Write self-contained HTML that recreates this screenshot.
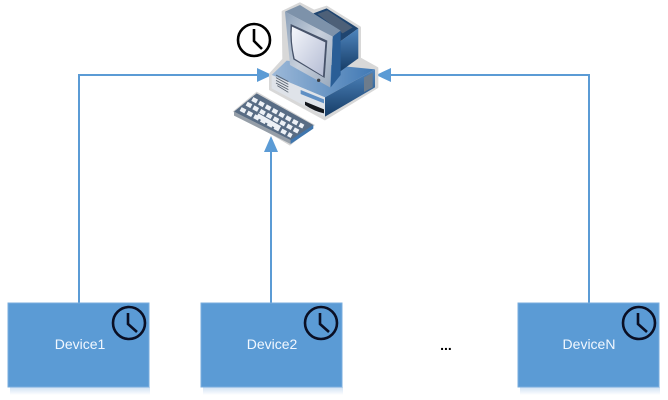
<!DOCTYPE html>
<html>
<head>
<meta charset="utf-8">
<style>
html,body{margin:0;padding:0;background:#fff;width:668px;height:400px;overflow:hidden}
svg{display:block}
text{font-family:"Liberation Sans",sans-serif}
</style>
</head>
<body>
<svg width="668" height="400" viewBox="0 0 668 400" xmlns="http://www.w3.org/2000/svg">
<defs>
<linearGradient id="scr" x1="0" y1="0" x2="1" y2="1"><stop offset="0" stop-color="#f4f6fb"/><stop offset="1" stop-color="#b4bcd4"/></linearGradient>
<linearGradient id="frame" x1="0" y1="0" x2="1" y2="1"><stop offset="0" stop-color="#8ba0b8"/><stop offset="0.5" stop-color="#c8d0dc"/><stop offset="1" stop-color="#98a8bc"/></linearGradient>
<linearGradient id="side" x1="0" y1="0" x2="0" y2="1"><stop offset="0" stop-color="#4f86bf"/><stop offset="1" stop-color="#163c66"/></linearGradient>
<linearGradient id="top" x1="0" y1="0" x2="1" y2="0"><stop offset="0" stop-color="#9db9d8"/><stop offset="1" stop-color="#3f78b4"/></linearGradient>
<linearGradient id="sh" x1="0" y1="0" x2="0" y2="1"><stop offset="0" stop-color="#cfe0f3"/><stop offset="1" stop-color="#ffffff"/></linearGradient>
<g id="clock" fill="none">
<circle cx="0" cy="0" r="16" stroke="#0a0f24" stroke-width="2.6" fill="none"/>
<path d="M-1 -10 L-1 1 L8 9" stroke="#0a0f24" stroke-width="2.6"/>
</g>
</defs>

<!-- connectors -->
<g fill="none" stroke="#5b9bd5" stroke-width="2">
<path d="M79 303V75H262"/>
<path d="M271 303V148"/>
<path d="M589 303V75H386"/>
</g>
<g fill="#5b9bd5">
<path d="M272 75L257 68V82Z"/>
<path d="M376 75L391 68V82Z"/>
<path d="M271 136L264 152H278Z"/>
</g>

<!-- computer, drawn in 3x coordinates -->
<g transform="translate(220,0) scale(0.3333)">
<path d="M150 222L190 178L188 35L240 10L282 32L320 20L420 82V175L472 204V262L315 358L150 268Z" fill="#d8d8d8" stroke="#d8d8d8" stroke-width="6" stroke-linejoin="round"/>
<!-- base -->
<path d="M155 225L200 182L465 208L315 292Z" fill="url(#top)"/>
<path d="M155 225L315 292V350L155 265Z" fill="#dfe3e9"/>
<path d="M315 292L465 208V262L315 350Z" fill="url(#side)"/>
<path d="M168 225L205 245M168 233L205 253M168 241L205 261M168 249L205 269M172 257L205 277" stroke="#555f6c" stroke-width="2.5"/>
<path d="M242 270L312 298V310L242 282Z" fill="#5f8fc4"/>
<path d="M255 305L312 328V340Q285 335 255 315Z" fill="#14171c"/>
<path d="M432 232L458 218V262L432 276Z" fill="#6d7c8c"/>
<!-- tower back -->
<path d="M280 40L320 25L415 85L360 125Z" fill="#1f4570"/>
<path d="M292 42L322 31L398 82L368 100Z" fill="#4d6078"/>
<path d="M360 125L415 85V175L360 215Z" fill="url(#side)"/>
<!-- monitor -->
<path d="M195 35L240 15L362 92L338 110Z" fill="#7d92aa"/>
<path d="M338 110L362 92V225L332 262Z" fill="#2a5e96"/>
<path d="M195 35L338 110L330 262L210 195Z" fill="url(#frame)"/>
<path d="M212 72L322 122L314 234L220 178Q208 120 212 72Z" fill="#47536a"/>
<path d="M216 80L316 127L309 228L224 176Q212 125 216 80Z" fill="url(#scr)"/>
<circle cx="296" cy="241" r="5" fill="#3b3f46"/>
<!-- keyboard -->
<path d="M38 335L110 275L285 375L210 437Z" fill="#d4d4d4"/>
<path d="M42 335L110 280L280 375L212 428Z" fill="#586c84"/>
<path d="M42 335L212 420V432L42 347Z" fill="#959ea8"/>
<path d="M212 420L280 375V386L212 432Z" fill="#3f76ae"/>
<g stroke="#edf1f6" stroke-width="13" stroke-dasharray="16 7" fill="none">
<path d="M97 297L250 380"/>
<path d="M80 311L235 395"/>
<path d="M62 327L215 408"/>
</g>
<path d="M112 346L180 384" stroke="#edf1f6" stroke-width="13"/>
</g>

<!-- top clock -->
<g transform="translate(254,40)"><circle cx="0" cy="0" r="16" fill="none" stroke="#000" stroke-width="2.6"/><path d="M0 -11V1L8 9" fill="none" stroke="#000" stroke-width="2.6"/></g>

<!-- devices -->
<rect x="10" y="387" width="140" height="8" fill="url(#sh)"/>
<rect x="203" y="387" width="140" height="8" fill="url(#sh)"/>
<rect x="520" y="387" width="140" height="8" fill="url(#sh)"/>
<rect x="8" y="303" width="141" height="84" fill="#5b9bd5" stroke="#7aaede" stroke-width="1"/>
<rect x="201" y="303" width="141" height="84" fill="#5b9bd5" stroke="#7aaede" stroke-width="1"/>
<rect x="518" y="303" width="141" height="84" fill="#5b9bd5" stroke="#7aaede" stroke-width="1"/>
<use href="#clock" x="129" y="323"/>
<use href="#clock" x="321" y="323"/>
<use href="#clock" x="639" y="323"/>
<text x="80" y="349" font-size="14" fill="#f2f8ff" text-anchor="middle">Device1</text>
<text x="272" y="349" font-size="14" fill="#f2f8ff" text-anchor="middle">Device2</text>
<text x="589" y="349" font-size="14" fill="#f2f8ff" text-anchor="middle">DeviceN</text>
<text x="446" y="350" font-size="14" font-weight="bold" fill="#000" text-anchor="middle">...</text>
</svg>
</body>
</html>
